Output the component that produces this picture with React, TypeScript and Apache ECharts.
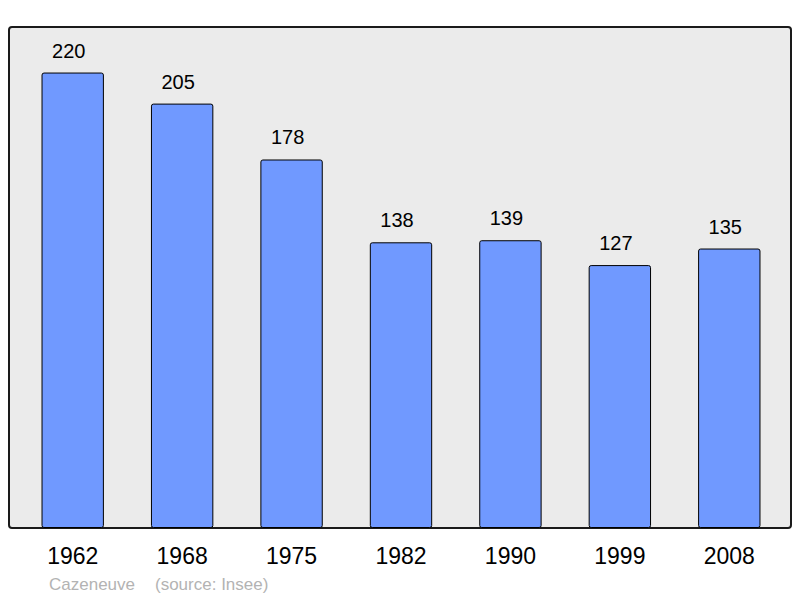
import React, { useEffect, useRef } from "react";
import * as echarts from "echarts";

const years = ["1962", "1968", "1975", "1982", "1990", "1999", "2008"];
const population = [220, 205, 178, 138, 139, 127, 135];
const footerName = "Cazeneuve";
const footerSource = "(source: Insee)";

const FONT = "Liberation Sans, Arial, sans-serif";

export default function App() {
  const ref = useRef<HTMLDivElement>(null);
  useEffect(() => {
    const chart = echarts.init(ref.current!, null, { renderer: "svg" });
    chart.setOption({
      animation: false,
      textStyle: { fontFamily: FONT },
      graphic: [
        {
          type: "rect",
          z: -10,
          silent: true,
          shape: { x: 9, y: 27, width: 782, height: 501, r: 3 },
          style: { fill: "#ebebeb", stroke: "#1a1a1a", lineWidth: 2 },
        },
        {
          type: "text",
          left: 49,
          top: 576,
          style: { text: footerName, fill: "#b3b3b3", fontSize: 17, fontFamily: FONT },
        },
        {
          type: "text",
          left: 155,
          top: 576,
          style: { text: footerSource, fill: "#b3b3b3", fontSize: 17, fontFamily: FONT },
        },
      ],
      grid: { left: 18, right: 16, top: 27, bottom: 70 },
      xAxis: {
        type: "category",
        data: years,
        axisLine: { show: false },
        axisTick: { show: false },
        axisLabel: { fontSize: 23, color: "#000", margin: 16 },
      },
      yAxis: {
        type: "value",
        min: 0,
        max: 242,
        show: false,
        splitLine: { show: false },
      },
      series: [
        {
          type: "bar",
          data: population,
          barWidth: "57%",
          itemStyle: {
            color: "#7099ff",
            borderColor: "#000",
            borderWidth: 1,
            borderRadius: 2,
          },
          label: {
            show: true,
            position: "top",
            distance: 12,
            offset: [-4, 0],
            fontSize: 20,
            color: "#000",
          },
        },
      ],
    });
    return () => chart.dispose();
  }, []);
  return <div ref={ref} style={{ width: 800, height: 598, position: "absolute", left: 0, top: 0 }} />;
}
